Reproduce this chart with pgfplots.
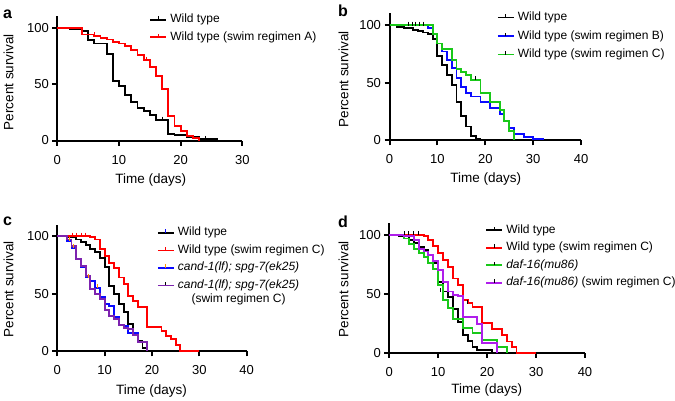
\documentclass[border=0pt]{standalone}
\usepackage{fontspec}
\setmainfont{Liberation Sans}
\usepackage{pgfplots}
\pgfplotsset{compat=1.18}

\definecolor{kmred}{RGB}{255,0,0}
\definecolor{kmblue}{RGB}{10,10,255}
\definecolor{kmgreen}{RGB}{25,200,25}
\definecolor{kmpurpleC}{RGB}{125,35,175}
\definecolor{kmpurpleD}{RGB}{175,30,235}
\definecolor{kmorange}{RGB}{255,150,0}

\pgfplotsset{
  km/.style={
    scale only axis, anchor=south west,
    axis lines=left, axis line style={-, line width=2pt},
    tick align=outside, major tick length=5pt,
    tick style={line width=2pt, black},
    xmin=0, ymin=0, ymax=110, ytick={0,50,100},
    enlargelimits=false, clip=false,
    tick label style={font=\fontsize{13}{15}\selectfont},
    xticklabel style={yshift=-6pt},
    /pgf/number format/assume math mode=true,
    label style={font=\fontsize{13.5}{16}\selectfont},
    xlabel={Time (days)}, ylabel={Percent survival},
    legend style={draw=none, fill=none, font=\fontsize{12}{14}\selectfont,
      anchor=north west, inner sep=0pt, row sep=3.5pt,
      nodes={inner sep=1pt, text height=9pt, text depth=3pt},
      /tikz/every odd column/.append style={column sep=2pt}},
    legend cell align=left,
    every axis plot/.append style={const plot, line width=1.9pt, mark=none},
  },
  kmleg/.style 2 args={legend image code/.code={
    \draw[line width=1.9pt, #1] (0pt,0pt) -- (16pt,0pt);
    \draw[line width=1pt, #2] (8pt,0pt) -- (8pt,3.5pt);}},
  cens/.style={only marks, mark=|, mark size=2pt, forget plot,
    mark options={line width=0.9pt, yshift=1.5pt}},
}

\begin{document}
\begin{tikzpicture}
\path[use as bounding box] (0pt,0pt) rectangle (675pt,400pt);

% panel a
\begin{axis}[km, at={(57.3pt,259.5pt)}, width=185pt, height=124.1pt,
  xmax=30, xtick={0,10,20,30},
  xlabel style={at={(axis description cs:0.505,-0.345)}, anchor=base},
  ylabel style={at={(axis description cs:-0.238,0.471)}, anchor=base},
  legend style={at={(axis description cs:0.497,1.03)}}]
\addplot[black, kmleg={black}{black}] coordinates {
  (0,100) (2,99) (4,97) (5,89) (6,86) (8,77) (9,53) (10,48) (11,40) (12,34)
  (13,29) (14,26) (15,23) (16,18) (18,6) (19,5) (21,3) (23,1) (26,1)};
\addlegendentry{Wild type}
\addplot[kmred, kmleg={kmred}{kmred}] coordinates {
  (0,100) (4,94) (6,93) (7,91) (8,89.5) (9,87.5) (10,86) (11,83.5) (12,80.5)
  (13,75.5) (14,71) (15,65) (16,57.5) (17,46) (18,22) (19,13) (20,8.5)
  (21,4) (22,2) (23,0)};
\addlegendentry{Wild type (swim regimen A)}
\addplot[cens, kmred] coordinates {(6,93) (14.5,71)};
\addplot[cens, black] coordinates {(17,18) (24,1)};
\end{axis}

% panel b
\begin{axis}[km, at={(389.5pt,259.7pt)}, width=191.5pt, height=126.8pt,
  xmax=40, xtick={0,10,20,30,40},
  xlabel style={at={(axis description cs:0.503,-0.334)}, anchor=base},
  ylabel style={at={(axis description cs:-0.215,0.483)}, anchor=base},
  legend style={at={(axis description cs:0.56,1.025)}, row sep=4.5pt}]
\addplot[black, kmleg={black}{black}] coordinates {
  (0,100) (1.5,98.5) (3,97.5) (5,96) (6,95) (7,93.5) (8,92) (9,88) (10,73)
  (11,65) (12,57) (13,48) (14,33) (15,21) (16,12) (17,4) (18,1.5) (19,0)};
\addlegendentry{Wild type}
\addplot[kmblue, kmleg={kmblue}{black}] coordinates {
  (0,100) (8,97.5) (9,92) (10,84) (11,77) (12,70) (13,62.5) (14,54) (15,46)
  (16,41) (17,38) (19,33) (21,28) (23,23) (24,16.5) (25,10.5) (26,5.5)
  (28,2.5) (30,1.2) (32,0)};
\addlegendentry{Wild type (swim regimen B)}
\addplot[kmgreen, kmleg={kmgreen}{black}] coordinates {
  (0,100) (9,92) (10,84) (11,79) (13,70) (14,62) (15,59.5) (16,56.5)
  (17,52.5) (19,41) (21,33.5) (23,26) (24,16.5) (25,8) (26,0)};
\addlegendentry{Wild type (swim regimen C)}
\addplot[cens, black] coordinates {(4,100) (4.7,100) (5.4,100) (6.2,100) (7.1,100) (18,52.5)};
\end{axis}

% panel c
\begin{axis}[km, at={(57.3pt,48.7pt)}, width=189.4pt, height=126.8pt,
  xmax=40, xtick={0,10,20,30,40},
  xlabel style={at={(axis description cs:0.498,-0.337)}, anchor=base},
  ylabel style={at={(axis description cs:-0.232,0.491)}, anchor=base},
  legend style={at={(axis description cs:0.525,0.99)}}]
\addplot[black, kmleg={black}{kmblue}] coordinates {
  (0,100) (2,99) (4,97) (5,95) (6,92) (7,89) (8,86) (9,81) (10,73) (11,57)
  (12,50) (13,41) (14,34) (15,24) (16,15) (17,9) (18,3) (19,0)};
\addlegendentry{Wild type}
\addplot[kmred, kmleg={kmred}{kmred}] coordinates {
  (0,100) (7,99) (8,97) (9,89) (10,82.5) (11,76.5) (12,72) (13,64) (14,58)
  (15,48) (16,43.5) (17,38.5) (19,21) (22,17.5) (23,13.5) (24,10.5) (25,5.5)
  (26,0) (30,0)};
\addlegendentry{Wild type (swim regimen C)}
\addplot[kmblue, kmleg={kmblue}{kmorange}] coordinates {
  (0,100) (2,96) (3,90) (4,80) (5,73) (6,64) (7,61) (8,55) (9,47) (10,41)
  (11,39) (12,30) (13,23) (14,22) (15,16) (17,8) (19,0)};
\addlegendentry{\textit{cand-1(lf); spg-7(ek25)}}
\addplot[kmpurpleC, kmleg={kmpurpleC}{black}] coordinates {
  (0,100) (2,97) (3,91) (4,80) (5,74) (6,65) (7,54) (8,50) (9,45) (10,36)
  (11,31) (12,28) (13,23) (14,20.5) (15,19) (16,14.5) (17,8) (19,0)};
\addlegendentry{\begin{tabular}[t]{@{}c@{}}\textit{cand-1(lf); spg-7(ek25)}\\(swim regimen C)\end{tabular}}
\addplot[cens, kmred] coordinates {(3.2,100) (4.1,100) (5,100) (6,100)};
\addplot[cens, kmorange] coordinates {(2.5,96) (3.5,90) (6.5,64) (8.5,55)};
\end{axis}

% panel d
\begin{axis}[km, at={(389.3pt,47.3pt)}, width=195.7pt, height=129.5pt,
  xmax=40, xtick={0,10,20,30,40},
  xlabel style={at={(axis description cs:0.498,-0.314)}, anchor=base},
  ylabel style={at={(axis description cs:-0.2095,0.49)}, anchor=base},
  legend style={at={(axis description cs:0.49,1.0)}}]
\addplot[black, kmleg={black}{black}] coordinates {
  (0,100) (2,99) (4,95.5) (5,93) (6,90) (7,87) (8,83) (9,76) (10,60) (11,52)
  (12,47) (13,37) (14,26) (15,15) (16,10) (17,5) (18,2) (21,0)};
\addlegendentry{Wild type}
\addplot[kmred, kmleg={kmred}{black}] coordinates {
  (0,100) (7,99) (8,96) (9,90.5) (10,84.5) (11,79) (12,73) (13,63) (14,57.5)
  (15,45) (16,42) (17,38.5) (19,25) (21,20.5) (23,15) (24,9.5) (25,5) (26,0)
  (30,0)};
\addlegendentry{Wild type (swim regimen C)}
\addplot[kmgreen, kmleg={kmgreen}{black}] coordinates {
  (0,100) (3,97) (4,92.5) (5,88) (6,84.5) (7,81) (8,76) (9,71) (10,57.5)
  (11,45) (12,38) (13,29) (15,21) (17,16.5) (19,10.5) (22,5) (24,0)};
\addlegendentry{\textit{daf-16(mu86)}}
\addplot[kmpurpleD, kmleg={kmpurpleD}{black}] coordinates {
  (0,100) (3,99) (5,96) (6,88) (7,86) (8,83) (9,78) (10,70) (11,60) (12,52)
  (13,49) (14,48) (15,30.5) (18,24) (19,8) (22,0)};
\addlegendentry{\textit{daf-16(mu86)} (swim regimen C)}
\addplot[cens, black] coordinates {(3,100) (4,100) (5,100) (6,100) (10.5,52) (16,42)};
\end{axis}

\node[anchor=base west, inner sep=0pt, font=\bfseries\fontsize{16}{16}\selectfont] at (3pt,381.7pt) {a};
\node[anchor=base west, inner sep=0pt, font=\bfseries\fontsize{16}{16}\selectfont] at (338pt,383pt) {b};
\node[anchor=base west, inner sep=0pt, font=\bfseries\fontsize{16}{16}\selectfont] at (3pt,175pt) {c};
\node[anchor=base west, inner sep=0pt, font=\bfseries\fontsize{16}{16}\selectfont] at (338pt,173pt) {d};
\end{tikzpicture}
\end{document}
